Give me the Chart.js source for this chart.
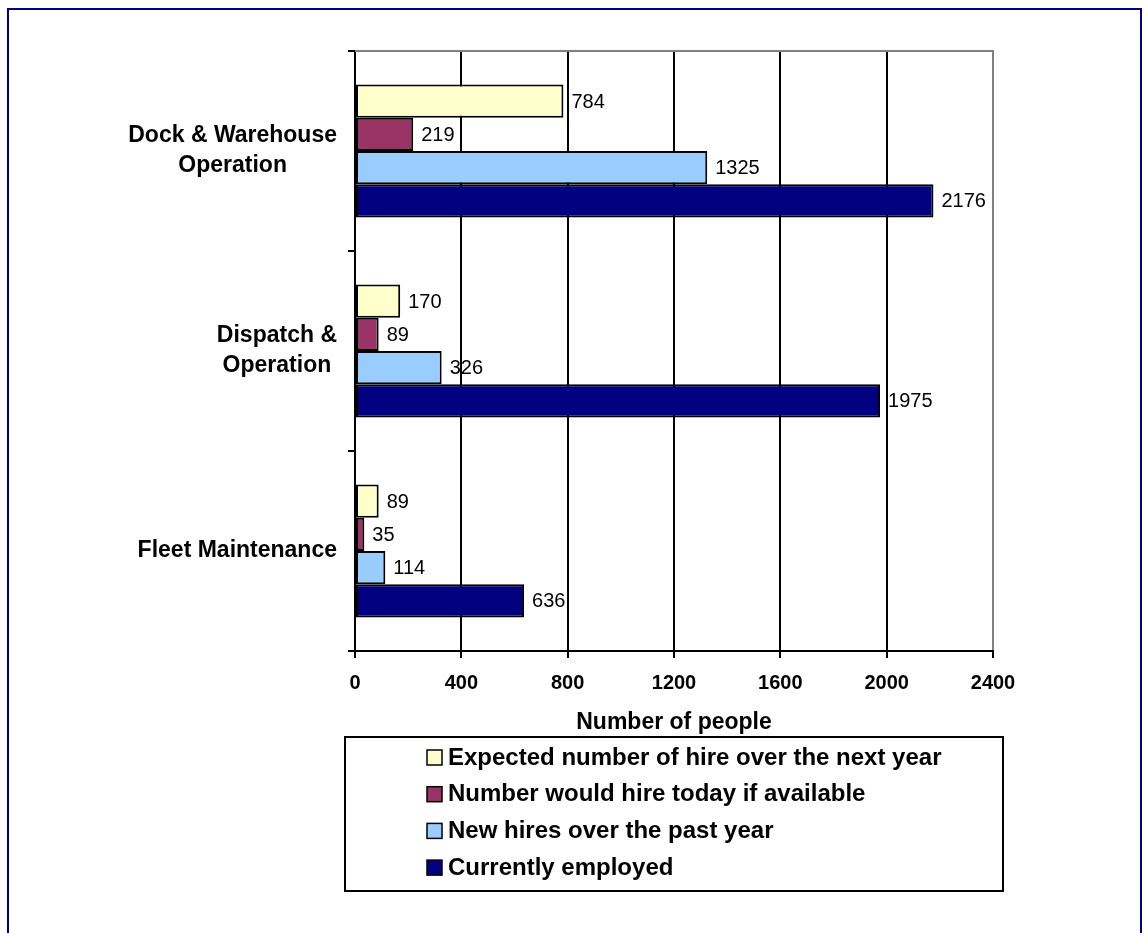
<!DOCTYPE html>
<html>
<head>
<meta charset="utf-8">
<title>Employment and hiring by occupation</title>
<script src="https://cdn.jsdelivr.net/npm/chart.js@4/dist/chart.umd.min.js"></script>
<style>
  html, body { margin: 0; padding: 0; background: #fff; overflow: hidden; }
  #wrap { position: relative; width: 1142px; height: 933px; }
  #frame { position: absolute; left: 7px; top: 8px; width: 1135px; height: 940px; border: 2px solid #000080; box-sizing: border-box; pointer-events: none; }
  canvas { position: absolute; left: 0; top: 0; }
</style>
</head>
<body>
<div id="wrap">
  <canvas id="chart" width="1142" height="933"></canvas>
  <div id="frame"></div>
</div>
<script>
// ---- data ----
const categories = [['Dock & Warehouse', 'Operation'], ['Dispatch &', 'Operation'], ['Fleet Maintenance']];
const seriesNames = ['Expected number of hire over the next year', 'Number would hire today if available', 'New hires over the past year', 'Currently employed'];
const expectedHires = [784, 170, 89];
const hireToday = [219, 89, 35];
const newHires = [1325, 326, 114];
const currentlyEmployed = [2176, 1975, 636];
const xMax = 2400;
const xStep = 400;

const FONT = '"Liberation Sans", Arial, Helvetica, sans-serif';
const FILLS = ['#FFFFCC', '#993366', '#99CCFF', '#000080'];
Chart.defaults.font.family = FONT;
Chart.defaults.color = '#000';

const values = [expectedHires, hireToday, newHires, currentlyEmployed];

// top edge of the plot frame (right edge comes from the last x gridline)
const plotFrame = {
  id: 'plotFrame',
  beforeDatasetsDraw(chart) {
    const { ctx, chartArea: a } = chart;
    ctx.save();
    ctx.strokeStyle = '#808080';
    ctx.lineWidth = 2;
    ctx.beginPath();
    ctx.moveTo(a.left, a.top);
    ctx.lineTo(a.right + 1, a.top);
    ctx.stroke();
    ctx.restore();
  }
};

// value labels at bar ends
const barValues = {
  id: 'barValues',
  afterDatasetsDraw(chart) {
    const { ctx } = chart;
    ctx.save();
    ctx.font = '20px ' + FONT;
    ctx.fillStyle = '#000';
    ctx.textAlign = 'left';
    ctx.textBaseline = 'middle';
    chart.data.datasets.forEach((ds, i) => {
      chart.getDatasetMeta(i).data.forEach((bar, j) => {
        ctx.fillText(String(ds.data[j]), bar.x + 8, bar.y + 1);
      });
    });
    ctx.restore();
  }
};

// category labels: block right-aligned to the axis, lines centred in the block
const categoryLabels = {
  id: 'categoryLabels',
  afterDraw(chart) {
    const { ctx } = chart;
    const y = chart.scales.y;
    ctx.save();
    ctx.font = 'bold 23px ' + FONT;
    ctx.fillStyle = '#000';
    ctx.textAlign = 'center';
    ctx.textBaseline = 'middle';
    chart.data.labels.forEach((lines, i) => {
      const widest = Math.max(...lines.map(l => ctx.measureText(l).width));
      const cx = y.right - 18 - widest / 2;
      const cy = y.getPixelForValue(i);
      lines.forEach((l, k) => ctx.fillText(l, cx, cy + (k - (lines.length - 1) / 2) * 30));
    });
    ctx.restore();
  }
};

// boxed legend under the axis title
const boxLegend = {
  id: 'boxLegend',
  afterDraw(chart) {
    const { ctx } = chart;
    const box = { left: 345, top: 737, right: 1003, bottom: 891 };
    ctx.save();
    ctx.strokeStyle = '#000';
    ctx.lineWidth = 2;
    ctx.strokeRect(box.left, box.top, box.right - box.left, box.bottom - box.top);
    ctx.font = 'bold 24px ' + FONT;
    ctx.textBaseline = 'middle';
    ctx.textAlign = 'left';
    chart.data.datasets.forEach((ds, i) => {
      const cy = box.top + 20 + i * 36.7;
      ctx.fillStyle = ds.backgroundColor;
      ctx.fillRect(427, cy - 7, 15, 15);
      ctx.lineWidth = 1.5;
      ctx.strokeRect(427, cy - 7, 15, 15);
      ctx.fillStyle = '#000';
      ctx.fillText(ds.label, 448, cy + 1);
    });
    ctx.restore();
  }
};

new Chart(document.getElementById('chart'), {
  type: 'bar',
  data: {
    labels: categories,
    datasets: values.map((data, i) => ({
      label: seriesNames[i], data,
      backgroundColor: FILLS[i], borderColor: '#000', borderWidth: 2, borderSkipped: false,
      categoryPercentage: 0.665, barPercentage: 1.0
    }))
  },
  options: {
    indexAxis: 'y',
    responsive: false,
    animation: false,
    layout: { padding: { top: 51, right: 149, bottom: 192, left: 0 } },
    plugins: { legend: { display: false }, tooltip: { enabled: false } },
    scales: {
      x: {
        min: 0, max: xMax,
        afterFit: s => { s.height = 90; },
        ticks: { stepSize: xStep, padding: 13, color: '#000', font: { size: 20, weight: 'bold' }, callback: v => String(v) },
        grid: {
          color: c => (c.tick && c.tick.value === xMax ? '#808080' : '#000'),
          tickColor: '#000', lineWidth: 2, tickLength: 7
        },
        border: { display: true, color: '#000', width: 2 },
        title: { display: true, text: 'Number of people', color: '#000', font: { size: 23, weight: 'bold' }, padding: { top: 0, bottom: 5 } }
      },
      y: {
        afterFit: s => { s.width = 355; },
        ticks: { display: false },
        grid: { display: true, drawOnChartArea: false, offset: true, color: '#000', lineWidth: 2, tickLength: 7 },
        border: { display: true, color: '#000', width: 2 }
      }
    }
  },
  plugins: [plotFrame, barValues, categoryLabels, boxLegend]
});
</script>
</body>
</html>
